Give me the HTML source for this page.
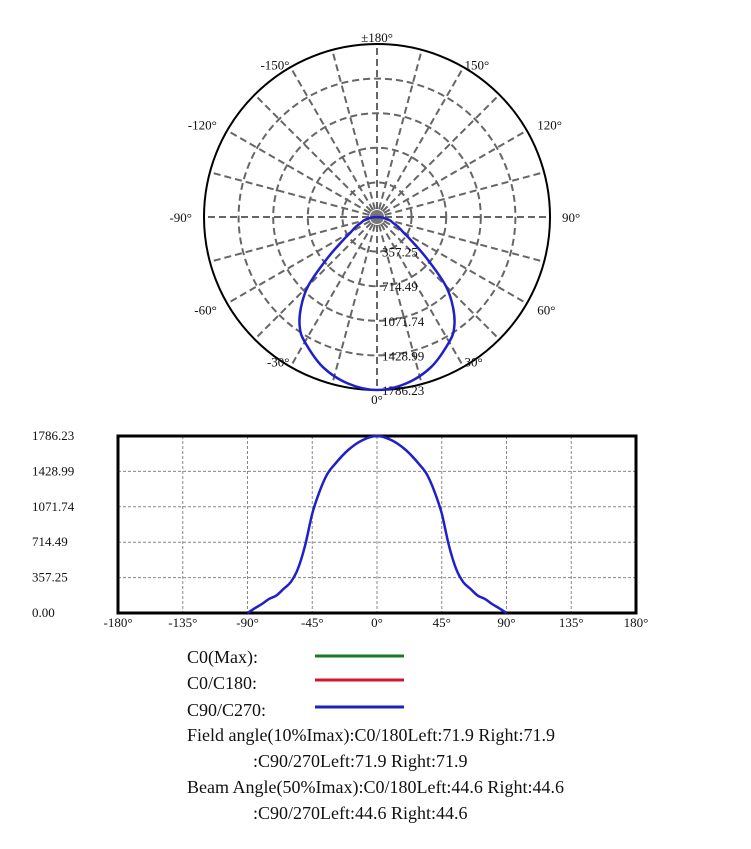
<!DOCTYPE html>
<html><head><meta charset="utf-8"><style>
body{margin:0;background:#fff;width:751px;height:849px;overflow:hidden;font-family:"Liberation Serif",serif;}
svg{position:absolute;left:0;top:0}
.lg{position:absolute;left:187px;font-size:18px;color:#111;white-space:nowrap;line-height:20px}
</style></head><body>
<svg id="chart" width="751" height="849"></svg>
<div class="lg" style="top:647px">C0(Max):</div>
<div class="lg" style="top:673px">C0/C180:</div>
<div class="lg" style="top:700px">C90/C270:</div>
<div class="lg" style="top:725px">Field angle(10%Imax):C0/180Left:71.9 Right:71.9</div>
<div class="lg" style="top:751px;left:253px">:C90/270Left:71.9 Right:71.9</div>
<div class="lg" style="top:777px">Beam Angle(50%Imax):C0/180Left:44.6 Right:44.6</div>
<div class="lg" style="top:803px;left:253px">:C90/270Left:44.6 Right:44.6</div>
<script>
const angles=[-90,-85,-80,-75,-70,-65,-60,-55,-50,-45,-40,-35,-30,-20,-10,0,10,20,30,35,40,45,50,55,60,65,70,75,80,85,90];
const intensity=[0,47,91,142,176,243,311,446,682,1003,1222,1390,1490,1645,1745,1786,1745,1645,1490,1390,1222,1003,682,446,311,243,176,142,91,47,0];
const yTicks=["0.00","357.25","714.49","1071.74","1428.99","1786.23"];
const xTicks=[-180,-135,-90,-45,0,45,90,135,180];
const polarLabels=[-150,-120,-90,-60,-30,0,30,60,90,120,150,180];
const maxI=1786.23;
const NS="http://www.w3.org/2000/svg";
const svg=document.getElementById('chart');
function mk(t,a,txt){const e=document.createElementNS(NS,t);for(const k in a)e.setAttribute(k,a[k]);if(txt!==undefined)e.textContent=txt;svg.appendChild(e);return e;}
function smooth(pts){let d='M'+pts[0][0].toFixed(1)+','+pts[0][1].toFixed(1);
for(let i=0;i<pts.length-1;i++){const p0=pts[Math.max(0,i-1)],p1=pts[i],p2=pts[i+1],p3=pts[Math.min(pts.length-1,i+2)];
const c1=[p1[0]+(p2[0]-p0[0])/6,p1[1]+(p2[1]-p0[1])/6],c2=[p2[0]-(p3[0]-p1[0])/6,p2[1]-(p3[1]-p1[1])/6];
d+='C'+c1[0].toFixed(1)+','+c1[1].toFixed(1)+' '+c2[0].toFixed(1)+','+c2[1].toFixed(1)+' '+p2[0].toFixed(1)+','+p2[1].toFixed(1);}return d;}
// polar
const cx=377,cy=217,R=173;
function pr(v){return v/maxI*R;}
function pxy(deg,r){const a=deg*Math.PI/180;return [cx+r*Math.sin(a),cy+r*Math.cos(a)];}
for(let i=1;i<5;i++){const c=mk('circle',{cx:cx,cy:cy,r:R*i/5,fill:'none',stroke:'#666','stroke-width':2,'stroke-dasharray':'7,4'});

}
for(let d=0;d<360;d+=15){const p1=pxy(d,8),p2=pxy(d,R);const l=mk('line',{x1:p1[0],y1:p1[1],x2:p2[0],y2:p2[1],stroke:'#666','stroke-width':2,'stroke-dasharray':'7,4'});

}
const oc=mk('circle',{cx:cx,cy:cy,r:R,fill:'none',stroke:'#000','stroke-width':2});


const cc=mk('circle',{cx:cx,cy:cy,r:7,fill:'#777'});


polarLabels.forEach(d=>{let p=pxy(d,R+12);let t=d==180?'±180°':d+'°';let anchor=d==0||d==180?'middle':(d<0?'end':'start');
let dy=d==0?14:(d==180?-2:5);if(d==0)p=pxy(0,R);if(d==180)p=pxy(180,R);
if(Math.abs(d)==30){p=pxy(d,R+2);dy=-2;}
if(Math.abs(d)==150){p=pxy(d,R+2);dy=4;}
const e=mk('text',{x:p[0],y:p[1]+dy,'font-size':13,'text-anchor':anchor,fill:'#111'},t);

});
yTicks.slice(1).forEach((t,i)=>{const r=R*(i+1)/5;const e=mk('text',{x:cx+5,y:cy+r+5,'font-size':13,fill:'#111'},t);

});
const ppts=angles.map((a,i)=>pxy(a,pr(intensity[i])));
const pc=mk('path',{d:smooth(ppts),fill:'none',stroke:'#2020c8','stroke-width':2.5,'stroke-linejoin':'round'});


// linear
const L=118,Rr=636,T=436,B=613;
function xs(a){return L+(a+180)/360*(Rr-L);}
function ys(v){return B-v/maxI*(B-T);}
xTicks.forEach(a=>{if(a>-180&&a<180){const l=mk('line',{x1:xs(a),y1:T,x2:xs(a),y2:B,stroke:'#888','stroke-width':1,'stroke-dasharray':'3,2'});

}
const e=mk('text',{x:xs(a),y:B+14,'font-size':13,'text-anchor':'middle',fill:'#111'},a+'°');

});
yTicks.forEach((t,i)=>{const v=maxI*i/5;if(i>0&&i<5){const l=mk('line',{x1:L,y1:ys(v),x2:Rr,y2:ys(v),stroke:'#888','stroke-width':1,'stroke-dasharray':'3,2'});

}
const e=mk('text',{x:32,y:ys(v)+4,'font-size':13,fill:'#111'},t);

});
const box=mk('rect',{x:L,y:T,width:Rr-L,height:B-T,fill:'none',stroke:'#000','stroke-width':3});


const lpts=angles.map((a,i)=>[xs(a),ys(intensity[i])]);
const lc=mk('path',{d:smooth(lpts),fill:'none',stroke:'#2020c8','stroke-width':2.5,'stroke-linejoin':'round'});


// legend swatches
[['#1a7a2a',656,'legend-swatch-c0max'],['#d01830',680,'legend-swatch-c0c180'],['#1a22c0',707,'legend-swatch-c90c270']].forEach(s=>{const l=mk('line',{x1:315,y1:s[1],x2:404,y2:s[1],stroke:s[0],'stroke-width':3});

});
</script>
</body></html>
